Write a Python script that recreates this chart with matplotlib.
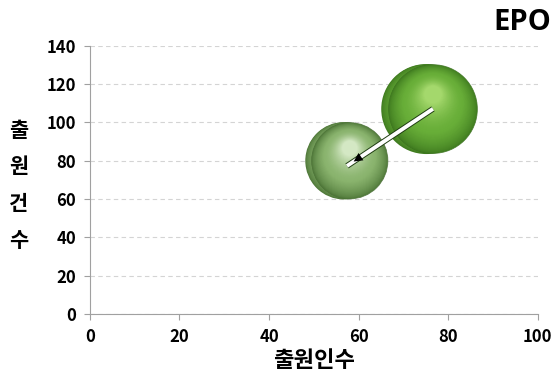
import matplotlib
matplotlib.use("Agg")
import matplotlib.pyplot as plt
import matplotlib.transforms as mtransforms
from matplotlib.markers import MarkerStyle
import numpy as np
from matplotlib.colors import to_rgb

plt.rcParams['font.family'] = ['Noto Sans CJK KR', 'DejaVu Sans']

# Data
applicants = [76.0, 57.5]        # 출원인수 (x)
applications = [107.0, 80.0]     # 출원건수 (y)
bubble_sizes = [4200, 3100]      # bubble area values
x_ticks = [0, 20, 40, 60, 80, 100]
y_ticks = [0, 20, 40, 60, 80, 100, 120, 140]
title = "EPO"
x_label = "출원인수"
y_label_chars = ["출", "원", "건", "수"]

# (rim, body, highlight)
palettes = [
    ("#407c20", "#68ae38", "#a4d86c"),
    ("#50793a", "#8ab46e", "#d4e8c4"),
]

fig = plt.figure(figsize=(5.55, 3.82), dpi=100)
ax = fig.add_axes([0.162, 0.178, 0.807, 0.702])
ax.set_xlim(0, 100)
ax.set_ylim(0, 140)
ax.set_xticks(x_ticks)
ax.set_yticks(y_ticks)
ax.yaxis.grid(True, linestyle=(0, (4, 3)), color="#d4d4d4", linewidth=0.8)
ax.set_axisbelow(True)
for s in ["top", "right"]:
    ax.spines[s].set_visible(False)
for s in ["left", "bottom"]:
    ax.spines[s].set_color("#a0a0a0")
ax.tick_params(axis="both", color="#a0a0a0", length=4, direction="out",
               labelsize=12, pad=6)
for lab in ax.get_xticklabels() + ax.get_yticklabels():
    lab.set_fontweight("bold")


def lerp(c1, c2, t):
    a = np.array(to_rgb(c1)); b = np.array(to_rgb(c2))
    return tuple(a + (b - a) * t)


def grad_color(pal, t):
    rim, body, hi = pal
    if t < 0.4:
        u = t / 0.4
        return lerp(rim, body, u ** 0.7)
    u = (t - 0.4) / 0.6
    return lerp(body, hi, u ** 1.6)


def sphere_layers(x, y, s, pal, z, dxs):
    r = np.sqrt(s) / 2.0
    n = 50
    for k in range(n):
        t = k / (n - 1)
        size = s * (1 - 0.8 * t) ** 2
        col = grad_color(pal, t)
        dy = r * 0.33 * t / 72
        dx = dxs / 72
        tr = ax.transData + mtransforms.ScaledTranslation(dx, dy, fig.dpi_scale_trans)
        ax.scatter([x], [y], s=size, color=col, edgecolors="none",
                   transform=tr, zorder=z + 0.001 * k)


def sphere(x, y, s, pal, z):
    r = np.sqrt(s) / 2.0
    # back sphere, shifted left (double-sphere look)
    sphere_layers(x, y, s, pal, z, -r * 0.09)
    tr = ax.transData + mtransforms.ScaledTranslation(r * 0.06 / 72, 0, fig.dpi_scale_trans)
    ax.scatter([x], [y], s=s * 0.97, color="none", edgecolors=lerp(pal[0], "#000000", 0.15),
               linewidths=0.6, alpha=0.8, transform=tr, zorder=z + 0.2)
    # front sphere
    sphere_layers(x, y, s * 0.97, pal, z + 0.3, r * 0.06)


for i in range(len(applicants)):
    sphere(applicants[i], applications[i], bubble_sizes[i], palettes[i], 3 + i * 2)

# movement arrow: hollow shaft + filled head
x0, y0 = applicants[0] + 0.6, applications[0] + 0.1
x1, y1 = applicants[1] - 0.1, applications[1] - 2.7
ax.plot([x0, x1], [y0, y1], color="#1f3d12", linewidth=4.2,
        solid_capstyle="butt", zorder=20)
ax.plot([x0, x1], [y0, y1], color="white", linewidth=2.8,
        solid_capstyle="butt", zorder=21)
p0 = ax.transData.transform((x0, y0)); p1 = ax.transData.transform((x1, y1))
ang = np.degrees(np.arctan2(p1[1] - p0[1], p1[0] - p0[0]))
hx = x1 + (x0 - x1) * 0.12
hy = y1 + (y0 - y1) * 0.12
ax.scatter([hx], [hy], s=40, color="black",
           marker=MarkerStyle("^", transform=mtransforms.Affine2D().rotate_deg(ang - 90)),
           zorder=22, edgecolors="none")

ax.set_xlabel(x_label, fontsize=16, fontweight="bold", labelpad=2)
for i, ch in enumerate(y_label_chars):
    fig.text(0.034, 1 - (130 + 36.7 * i) / 382, ch, fontsize=15, fontweight="bold",
             ha="center", va="center")
fig.text(0.993, 0.94, title, fontsize=21, fontweight="bold",
         ha="right", va="center", family=["Open Sans", "DejaVu Sans"])

fig.savefig("out.png", dpi=100)
